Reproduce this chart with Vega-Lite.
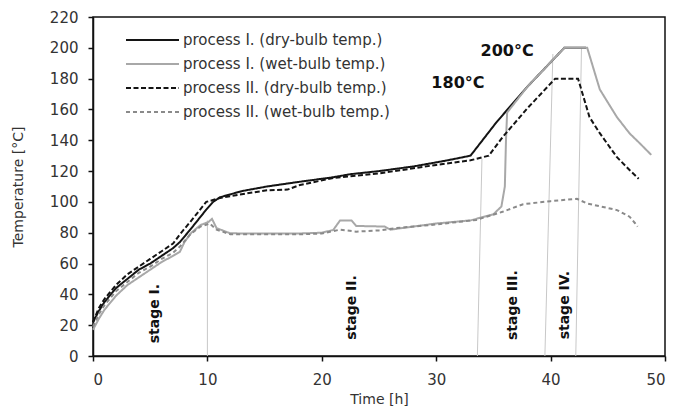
{
  "$schema": "https://vega.github.io/schema/vega-lite/v6.json",
  "width": 572,
  "height": 339,
  "autosize": {"type": "none"},
  "padding": {"left": 93, "top": 17, "right": 10, "bottom": 63},
  "background": "white",
  "config": {
    "view": {"stroke": "#111", "strokeWidth": 1.5},
    "font": "DejaVu Sans"
  },
  "datasets": {
    "lines": [
      {"series": "process I. (dry-bulb temp.)", "t": 0, "T": 22},
      {"series": "process I. (dry-bulb temp.)", "t": 0.5, "T": 29},
      {"series": "process I. (dry-bulb temp.)", "t": 1, "T": 35},
      {"series": "process I. (dry-bulb temp.)", "t": 2, "T": 44},
      {"series": "process I. (dry-bulb temp.)", "t": 3, "T": 50},
      {"series": "process I. (dry-bulb temp.)", "t": 4, "T": 56},
      {"series": "process I. (dry-bulb temp.)", "t": 5, "T": 60},
      {"series": "process I. (dry-bulb temp.)", "t": 6, "T": 65},
      {"series": "process I. (dry-bulb temp.)", "t": 7, "T": 70},
      {"series": "process I. (dry-bulb temp.)", "t": 7.6, "T": 74},
      {"series": "process I. (dry-bulb temp.)", "t": 8.5, "T": 82},
      {"series": "process I. (dry-bulb temp.)", "t": 9.9, "T": 95},
      {"series": "process I. (dry-bulb temp.)", "t": 10.5, "T": 100},
      {"series": "process I. (dry-bulb temp.)", "t": 11.1, "T": 103},
      {"series": "process I. (dry-bulb temp.)", "t": 13, "T": 107},
      {"series": "process I. (dry-bulb temp.)", "t": 15.2, "T": 110},
      {"series": "process I. (dry-bulb temp.)", "t": 18, "T": 113},
      {"series": "process I. (dry-bulb temp.)", "t": 21, "T": 116},
      {"series": "process I. (dry-bulb temp.)", "t": 22.5, "T": 118},
      {"series": "process I. (dry-bulb temp.)", "t": 25, "T": 120},
      {"series": "process I. (dry-bulb temp.)", "t": 28, "T": 123},
      {"series": "process I. (dry-bulb temp.)", "t": 31, "T": 127},
      {"series": "process I. (dry-bulb temp.)", "t": 33, "T": 130},
      {"series": "process I. (dry-bulb temp.)", "t": 35.3, "T": 152},
      {"series": "process I. (dry-bulb temp.)", "t": 38, "T": 175},
      {"series": "process I. (dry-bulb temp.)", "t": 41.2, "T": 200},
      {"series": "process I. (dry-bulb temp.)", "t": 43.1, "T": 200},

      {"series": "process I. (wet-bulb temp.)", "t": 0, "T": 17},
      {"series": "process I. (wet-bulb temp.)", "t": 0.5, "T": 24},
      {"series": "process I. (wet-bulb temp.)", "t": 1, "T": 30},
      {"series": "process I. (wet-bulb temp.)", "t": 2, "T": 39},
      {"series": "process I. (wet-bulb temp.)", "t": 3, "T": 46},
      {"series": "process I. (wet-bulb temp.)", "t": 4, "T": 51},
      {"series": "process I. (wet-bulb temp.)", "t": 5, "T": 56},
      {"series": "process I. (wet-bulb temp.)", "t": 6, "T": 61},
      {"series": "process I. (wet-bulb temp.)", "t": 7, "T": 65},
      {"series": "process I. (wet-bulb temp.)", "t": 7.6, "T": 67.7},
      {"series": "process I. (wet-bulb temp.)", "t": 8, "T": 74},
      {"series": "process I. (wet-bulb temp.)", "t": 8.6, "T": 80},
      {"series": "process I. (wet-bulb temp.)", "t": 9.4, "T": 85},
      {"series": "process I. (wet-bulb temp.)", "t": 10.1, "T": 87},
      {"series": "process I. (wet-bulb temp.)", "t": 10.4, "T": 89},
      {"series": "process I. (wet-bulb temp.)", "t": 10.8, "T": 83},
      {"series": "process I. (wet-bulb temp.)", "t": 12, "T": 79.6},
      {"series": "process I. (wet-bulb temp.)", "t": 15, "T": 79.5},
      {"series": "process I. (wet-bulb temp.)", "t": 18, "T": 79.5},
      {"series": "process I. (wet-bulb temp.)", "t": 20, "T": 80},
      {"series": "process I. (wet-bulb temp.)", "t": 21, "T": 81.8},
      {"series": "process I. (wet-bulb temp.)", "t": 21.6, "T": 88},
      {"series": "process I. (wet-bulb temp.)", "t": 22.6, "T": 88},
      {"series": "process I. (wet-bulb temp.)", "t": 23, "T": 84.4},
      {"series": "process I. (wet-bulb temp.)", "t": 25.5, "T": 84},
      {"series": "process I. (wet-bulb temp.)", "t": 26, "T": 82},
      {"series": "process I. (wet-bulb temp.)", "t": 28, "T": 84},
      {"series": "process I. (wet-bulb temp.)", "t": 30, "T": 86},
      {"series": "process I. (wet-bulb temp.)", "t": 33, "T": 88},
      {"series": "process I. (wet-bulb temp.)", "t": 35, "T": 92},
      {"series": "process I. (wet-bulb temp.)", "t": 35.7, "T": 97},
      {"series": "process I. (wet-bulb temp.)", "t": 36.0, "T": 110},
      {"series": "process I. (wet-bulb temp.)", "t": 36.1, "T": 140},
      {"series": "process I. (wet-bulb temp.)", "t": 36.2, "T": 158},
      {"series": "process I. (wet-bulb temp.)", "t": 38, "T": 175},
      {"series": "process I. (wet-bulb temp.)", "t": 41.2, "T": 200},
      {"series": "process I. (wet-bulb temp.)", "t": 43.2, "T": 200},
      {"series": "process I. (wet-bulb temp.)", "t": 44.3, "T": 173},
      {"series": "process I. (wet-bulb temp.)", "t": 45.8, "T": 155},
      {"series": "process I. (wet-bulb temp.)", "t": 46.9, "T": 144.5},
      {"series": "process I. (wet-bulb temp.)", "t": 47.8, "T": 138},
      {"series": "process I. (wet-bulb temp.)", "t": 48.8, "T": 130.5},

      {"series": "process II. (dry-bulb temp.)", "t": 0, "T": 22},
      {"series": "process II. (dry-bulb temp.)", "t": 0.5, "T": 31},
      {"series": "process II. (dry-bulb temp.)", "t": 1, "T": 37},
      {"series": "process II. (dry-bulb temp.)", "t": 2, "T": 46},
      {"series": "process II. (dry-bulb temp.)", "t": 3, "T": 53},
      {"series": "process II. (dry-bulb temp.)", "t": 4, "T": 58},
      {"series": "process II. (dry-bulb temp.)", "t": 5, "T": 63},
      {"series": "process II. (dry-bulb temp.)", "t": 6, "T": 68},
      {"series": "process II. (dry-bulb temp.)", "t": 7, "T": 73},
      {"series": "process II. (dry-bulb temp.)", "t": 7.6, "T": 79},
      {"series": "process II. (dry-bulb temp.)", "t": 8.5, "T": 87},
      {"series": "process II. (dry-bulb temp.)", "t": 9.9, "T": 100},
      {"series": "process II. (dry-bulb temp.)", "t": 11.1, "T": 102.5},
      {"series": "process II. (dry-bulb temp.)", "t": 13, "T": 105},
      {"series": "process II. (dry-bulb temp.)", "t": 15.2, "T": 107.5},
      {"series": "process II. (dry-bulb temp.)", "t": 17, "T": 108},
      {"series": "process II. (dry-bulb temp.)", "t": 18.1, "T": 111},
      {"series": "process II. (dry-bulb temp.)", "t": 21, "T": 115.5},
      {"series": "process II. (dry-bulb temp.)", "t": 25, "T": 118.5},
      {"series": "process II. (dry-bulb temp.)", "t": 30, "T": 124},
      {"series": "process II. (dry-bulb temp.)", "t": 33, "T": 127},
      {"series": "process II. (dry-bulb temp.)", "t": 34.6, "T": 130},
      {"series": "process II. (dry-bulb temp.)", "t": 35.8, "T": 142},
      {"series": "process II. (dry-bulb temp.)", "t": 38, "T": 161},
      {"series": "process II. (dry-bulb temp.)", "t": 40.4, "T": 180},
      {"series": "process II. (dry-bulb temp.)", "t": 42.4, "T": 180},
      {"series": "process II. (dry-bulb temp.)", "t": 43.4, "T": 155},
      {"series": "process II. (dry-bulb temp.)", "t": 44.3, "T": 144.6},
      {"series": "process II. (dry-bulb temp.)", "t": 45.8, "T": 129},
      {"series": "process II. (dry-bulb temp.)", "t": 46.9, "T": 120.7},
      {"series": "process II. (dry-bulb temp.)", "t": 47.7, "T": 115},

      {"series": "process II. (wet-bulb temp.)", "t": 0, "T": 19},
      {"series": "process II. (wet-bulb temp.)", "t": 0.5, "T": 27},
      {"series": "process II. (wet-bulb temp.)", "t": 1, "T": 33},
      {"series": "process II. (wet-bulb temp.)", "t": 2, "T": 42},
      {"series": "process II. (wet-bulb temp.)", "t": 3, "T": 48},
      {"series": "process II. (wet-bulb temp.)", "t": 4, "T": 54},
      {"series": "process II. (wet-bulb temp.)", "t": 5, "T": 58},
      {"series": "process II. (wet-bulb temp.)", "t": 6, "T": 63},
      {"series": "process II. (wet-bulb temp.)", "t": 7, "T": 67},
      {"series": "process II. (wet-bulb temp.)", "t": 7.6, "T": 71},
      {"series": "process II. (wet-bulb temp.)", "t": 8.5, "T": 79},
      {"series": "process II. (wet-bulb temp.)", "t": 9.4, "T": 84},
      {"series": "process II. (wet-bulb temp.)", "t": 10.2, "T": 86},
      {"series": "process II. (wet-bulb temp.)", "t": 10.8, "T": 82},
      {"series": "process II. (wet-bulb temp.)", "t": 12, "T": 79},
      {"series": "process II. (wet-bulb temp.)", "t": 15, "T": 79},
      {"series": "process II. (wet-bulb temp.)", "t": 18, "T": 79},
      {"series": "process II. (wet-bulb temp.)", "t": 20, "T": 79.5},
      {"series": "process II. (wet-bulb temp.)", "t": 21.6, "T": 82},
      {"series": "process II. (wet-bulb temp.)", "t": 23, "T": 80.7},
      {"series": "process II. (wet-bulb temp.)", "t": 25, "T": 81.5},
      {"series": "process II. (wet-bulb temp.)", "t": 26.5, "T": 83},
      {"series": "process II. (wet-bulb temp.)", "t": 29.5, "T": 85},
      {"series": "process II. (wet-bulb temp.)", "t": 33.5, "T": 88.3},
      {"series": "process II. (wet-bulb temp.)", "t": 35.8, "T": 93.6},
      {"series": "process II. (wet-bulb temp.)", "t": 37.6, "T": 98.5},
      {"series": "process II. (wet-bulb temp.)", "t": 40, "T": 100.5},
      {"series": "process II. (wet-bulb temp.)", "t": 42.3, "T": 102},
      {"series": "process II. (wet-bulb temp.)", "t": 43.2, "T": 99},
      {"series": "process II. (wet-bulb temp.)", "t": 45.8, "T": 94.7},
      {"series": "process II. (wet-bulb temp.)", "t": 46.9, "T": 90.4},
      {"series": "process II. (wet-bulb temp.)", "t": 47.4, "T": 86},
      {"series": "process II. (wet-bulb temp.)", "t": 47.6, "T": 84}
    ],
    "stages": [
      {"t": 10.0, "t2": 10.0, "T": 0, "T2": 88},
      {"t": 33.6, "t2": 34.0, "T": 0, "T2": 128},
      {"t": 39.5, "t2": 40.2, "T": 0, "T2": 196},
      {"t": 42.2, "t2": 42.7, "T": 0, "T2": 200}
    ],
    "stageLabels": [
      {"label": "stage I.", "t": 5.4, "T": 27.5},
      {"label": "stage II.", "t": 22.6, "T": 31.5},
      {"label": "stage III.", "t": 36.7, "T": 33},
      {"label": "stage IV.", "t": 41.3, "T": 33}
    ],
    "tempLabels": [
      {"label": "200°C", "t": 36.2, "T": 198},
      {"label": "180°C", "t": 31.9, "T": 177}
    ]
  },
  "layer": [
    {
      "data": {"name": "stages"},
      "mark": {"type": "rule", "color": "#c8c8c8", "strokeWidth": 1},
      "encoding": {
        "x": {"field": "t", "type": "quantitative", "scale": {"domain": [0, 50]},
              "axis": {"orient": "bottom", "title": "Time [h]", "grid": false,
                       "values": [0, 10, 20, 30, 40, 50],
                       "domainColor": "#111", "domainWidth": 1.5, "tickColor": "#111", "tickWidth": 1.5, "tickSize": 5,
                       "labelFont": "DejaVu Sans", "labelFontSize": 15, "labelColor": "#333", "labelPadding": 11,
                       "titleFont": "DejaVu Sans", "titleFontSize": 14, "titleFontWeight": "normal", "titleColor": "#333", "titlePadding": 5}},
        "x2": {"field": "t2"},
        "y": {"field": "T", "type": "quantitative", "scale": {"domain": [0, 220]},
              "axis": {"orient": "left", "title": "Temperature [°C]", "grid": false,
                       "values": [0, 20, 40, 60, 80, 100, 120, 140, 160, 180, 200, 220],
                       "domainColor": "#111", "domainWidth": 1.5, "tickColor": "#111", "tickWidth": 1.5, "tickSize": 5,
                       "labelFont": "DejaVu Sans", "labelFontSize": 15, "labelColor": "#333", "labelPadding": 10,
                       "titleFont": "DejaVu Sans", "titleFontSize": 14, "titleFontWeight": "normal", "titleColor": "#333", "titlePadding": 24}},
        "y2": {"field": "T2"}
      }
    },
    {
      "data": {"name": "lines"},
      "mark": {"type": "line", "strokeWidth": 2},
      "encoding": {
        "x": {"field": "t", "type": "quantitative", "axis": null},
        "y": {"field": "T", "type": "quantitative", "axis": null},
        "color": {"field": "series", "type": "nominal",
                  "scale": {"domain": ["process I. (dry-bulb temp.)", "process I. (wet-bulb temp.)", "process II. (dry-bulb temp.)", "process II. (wet-bulb temp.)"],
                            "range": ["#141414", "#a8a8a8", "#141414", "#8a8a8a"]},
                  "legend": {"orient": "none", "legendX": 32, "legendY": 11, "title": null,
                             "symbolType": "stroke", "symbolSize": 2809, "symbolStrokeWidth": 2,
                             "labelFont": "DejaVu Sans", "labelFontSize": 15, "labelColor": "#333",
                             "labelOffset": 3, "rowPadding": 0, "clipHeight": 24, "labelLimit": 400}},
        "strokeDash": {"field": "series", "type": "nominal",
                       "scale": {"domain": ["process I. (dry-bulb temp.)", "process I. (wet-bulb temp.)", "process II. (dry-bulb temp.)", "process II. (wet-bulb temp.)"],
                                 "range": [[1, 0], [1, 0], [5, 2.5], [4, 3]]},
                       "legend": {"orient": "none", "legendX": 32, "legendY": 11, "title": null,
                                  "symbolType": "stroke", "symbolSize": 2809, "symbolStrokeWidth": 2,
                                  "labelFont": "DejaVu Sans", "labelFontSize": 15, "labelColor": "#333",
                                  "labelOffset": 3, "rowPadding": 0, "clipHeight": 24, "labelLimit": 400}},
        "order": {"field": "t", "type": "quantitative"}
      }
    },
    {
      "data": {"name": "stageLabels"},
      "mark": {"type": "text", "angle": 270, "fontWeight": "bold", "fontSize": 14, "font": "DejaVu Sans", "color": "#111", "align": "center", "baseline": "middle"},
      "encoding": {
        "x": {"field": "t", "type": "quantitative", "axis": null},
        "y": {"field": "T", "type": "quantitative", "axis": null},
        "text": {"field": "label"}
      }
    },
    {
      "data": {"name": "tempLabels"},
      "mark": {"type": "text", "fontWeight": "bold", "fontSize": 16, "font": "DejaVu Sans", "color": "#111", "align": "center", "baseline": "middle"},
      "encoding": {
        "x": {"field": "t", "type": "quantitative", "axis": null},
        "y": {"field": "T", "type": "quantitative", "axis": null},
        "text": {"field": "label"}
      }
    }
  ],
  "resolve": {"axis": {"x": "independent", "y": "independent"}}
}
